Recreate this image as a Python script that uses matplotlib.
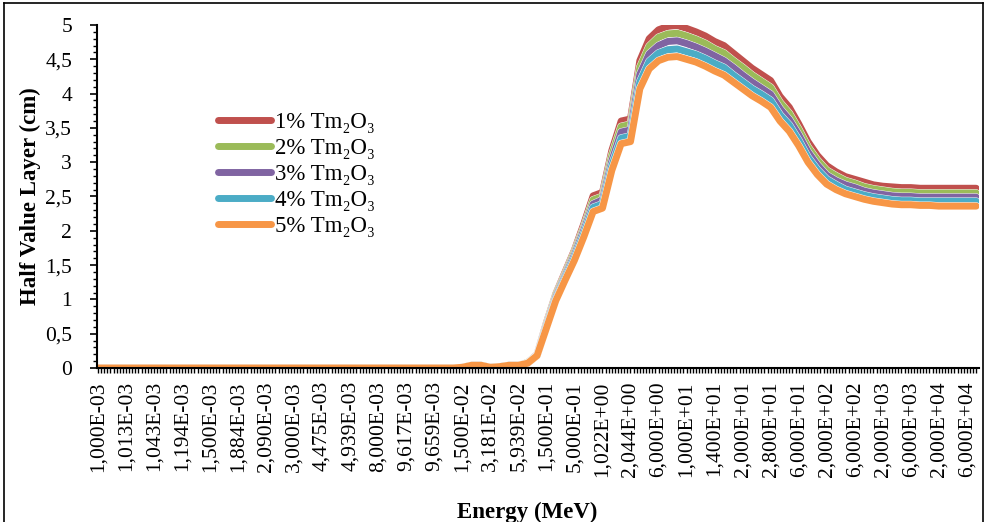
import matplotlib
matplotlib.use("Agg")
import matplotlib.pyplot as plt
import matplotlib.patheffects as pe
from matplotlib.ticker import MultipleLocator, FixedLocator, FixedFormatter
import numpy as np

plt.rcParams['font.family'] = ['Liberation Serif', 'DejaVu Serif']

energy_labels = [
    "1,000E-03", "1,005E-03", "1,009E-03",
    "1,013E-03", "1,020E-03", "1,030E-03",
    "1,043E-03", "1,100E-03", "1,150E-03",
    "1,194E-03", "1,300E-03", "1,400E-03",
    "1,500E-03", "1,600E-03", "1,800E-03",
    "1,884E-03", "2,000E-03", "2,050E-03",
    "2,090E-03", "2,307E-03", "2,500E-03",
    "3,000E-03", "3,500E-03", "4,000E-03",
    "4,475E-03", "4,600E-03", "4,800E-03",
    "4,939E-03", "5,000E-03", "6,000E-03",
    "8,000E-03", "8,648E-03", "9,000E-03",
    "9,617E-03", "9,630E-03", "9,645E-03",
    "9,659E-03", "1,000E-02", "1,012E-02",
    "1,500E-02", "2,000E-02", "3,000E-02",
    "3,181E-02", "4,000E-02", "5,000E-02",
    "5,939E-02", "6,000E-02", "8,000E-02",
    "1,500E-01", "2,000E-01", "3,000E-01",
    "5,000E-01", "8,000E-01", "1,000E+00",
    "1,022E+00", "1,250E+00", "2,000E+00",
    "2,044E+00", "3,000E+00", "4,000E+00",
    "6,000E+00", "7,000E+00", "8,000E+00",
    "1,000E+01", "1,100E+01", "1,200E+01",
    "1,400E+01", "1,500E+01", "1,600E+01",
    "2,000E+01", "2,200E+01", "2,400E+01",
    "2,800E+01", "3,000E+01", "4,000E+01",
    "6,000E+01", "8,000E+01", "1,000E+02",
    "2,000E+02", "3,000E+02", "4,000E+02",
    "6,000E+02", "8,000E+02", "1,000E+03",
    "2,000E+03", "3,000E+03", "4,000E+03",
    "6,000E+03", "8,000E+03", "1,000E+04",
    "2,000E+04", "3,000E+04", "4,000E+04",
    "6,000E+04", "8,000E+04",
]

zeros_low = [0.00, 0.00, 0.00, 0.00, 0.00, 0.00, 0.00, 0.00, 0.00, 0.00,
             0.00, 0.00, 0.00, 0.00, 0.00, 0.00, 0.00, 0.00, 0.00, 0.00,
             0.00, 0.00, 0.00, 0.00, 0.00, 0.00, 0.00, 0.00, 0.00, 0.00,
             0.00, 0.00, 0.00, 0.00, 0.00, 0.00, 0.00, 0.00, 0.00]

hvl_1 = zeros_low + [
    0.01, 0.04, 0.04, 0.01, 0.02, 0.04, 0.04, 0.08, 0.20, 0.66,
    1.08, 1.40, 1.72, 2.10, 2.51, 2.56, 3.17, 3.60, 3.63, 4.48,
    4.80, 4.93, 4.98, 4.99, 4.95, 4.90, 4.84, 4.76, 4.70, 4.59,
    4.48, 4.37, 4.28, 4.19, 3.96, 3.80, 3.56, 3.30, 3.10, 2.95,
    2.86, 2.79, 2.75, 2.71, 2.67, 2.65, 2.64, 2.63, 2.63, 2.62,
    2.62, 2.62, 2.62, 2.62, 2.62, 2.62]

hvl_2 = zeros_low + [
    0.01, 0.04, 0.04, 0.01, 0.02, 0.04, 0.04, 0.08, 0.19, 0.64,
    1.06, 1.37, 1.69, 2.05, 2.45, 2.50, 3.10, 3.52, 3.55, 4.38,
    4.69, 4.82, 4.87, 4.88, 4.84, 4.79, 4.73, 4.65, 4.59, 4.48,
    4.38, 4.27, 4.18, 4.09, 3.87, 3.71, 3.48, 3.22, 3.03, 2.88,
    2.80, 2.73, 2.69, 2.64, 2.61, 2.59, 2.57, 2.56, 2.56, 2.55,
    2.55, 2.55, 2.55, 2.55, 2.55, 2.55]

hvl_3 = zeros_low + [
    0.01, 0.04, 0.04, 0.01, 0.02, 0.04, 0.04, 0.07, 0.19, 0.62,
    1.03, 1.34, 1.65, 2.01, 2.39, 2.45, 3.02, 3.44, 3.47, 4.28,
    4.58, 4.70, 4.76, 4.77, 4.73, 4.68, 4.62, 4.55, 4.48, 4.38,
    4.27, 4.17, 4.08, 3.99, 3.78, 3.62, 3.40, 3.15, 2.96, 2.81,
    2.73, 2.67, 2.63, 2.58, 2.55, 2.53, 2.51, 2.50, 2.50, 2.49,
    2.49, 2.49, 2.49, 2.49, 2.49, 2.49]

hvl_4 = zeros_low + [
    0.01, 0.04, 0.04, 0.01, 0.02, 0.04, 0.04, 0.07, 0.18, 0.60,
    1.00, 1.31, 1.61, 1.96, 2.34, 2.39, 2.95, 3.35, 3.38, 4.17,
    4.47, 4.59, 4.64, 4.65, 4.61, 4.57, 4.51, 4.44, 4.38, 4.27,
    4.17, 4.07, 3.99, 3.90, 3.69, 3.54, 3.32, 3.07, 2.89, 2.75,
    2.67, 2.60, 2.56, 2.52, 2.49, 2.47, 2.45, 2.44, 2.44, 2.43,
    2.43, 2.43, 2.43, 2.43, 2.43, 2.43]

hvl_5 = zeros_low + [
    0.01, 0.04, 0.04, 0.01, 0.02, 0.04, 0.04, 0.07, 0.18, 0.58,
    0.98, 1.28, 1.57, 1.91, 2.28, 2.33, 2.88, 3.27, 3.30, 4.07,
    4.36, 4.48, 4.53, 4.54, 4.50, 4.46, 4.40, 4.33, 4.27, 4.17,
    4.07, 3.97, 3.89, 3.80, 3.60, 3.45, 3.24, 3.00, 2.82, 2.68,
    2.60, 2.54, 2.50, 2.46, 2.43, 2.41, 2.39, 2.38, 2.38, 2.37,
    2.37, 2.36, 2.36, 2.36, 2.36, 2.36]

series_names = ["1% Tm\u2082O\u2083", "2% Tm\u2082O\u2083", "3% Tm\u2082O\u2083",
                "4% Tm\u2082O\u2083", "5% Tm\u2082O\u2083"]
series_values = [hvl_1, hvl_2, hvl_3, hvl_4, hvl_5]
colors = ["#C0504D", "#9BBB59", "#8064A2", "#4BACC6", "#F79646"]

W, H = 985, 522
fig = plt.figure(figsize=(W / 100, H / 100), dpi=100)
ax = fig.add_axes([97 / W, 1 - 368 / H, (979 - 97) / W, (368 - 25) / H])

x = np.arange(len(energy_labels))
lw = 5.0
for vals, name, c in zip(series_values, series_names, colors):
    ax.plot(x, vals, color=c, lw=lw, label=name, solid_capstyle='round',
            solid_joinstyle='round',
            path_effects=[pe.Stroke(linewidth=lw + 0.6, foreground='white'), pe.Normal()])

ax.set_xlim(-0.1, len(energy_labels) - 1 + 0.3)
ax.set_ylim(0, 5)

for s in ['top', 'right']:
    ax.spines[s].set_visible(False)
for s in ['left', 'bottom']:
    ax.spines[s].set_linewidth(1.5)
    ax.spines[s].set_color('black')

label_idx = list(range(0, len(energy_labels), 3))
ax.xaxis.set_major_locator(FixedLocator(label_idx))
ax.xaxis.set_major_formatter(FixedFormatter([energy_labels[i] for i in label_idx]))
ax.xaxis.set_minor_locator(MultipleLocator(1 / 3))
ax.tick_params(axis='x', which='both', direction='out', length=3.5, width=1.0, pad=6)
ax.tick_params(axis='x', which='major', labelsize=15.5, labelrotation=90)

ax.yaxis.set_major_locator(MultipleLocator(0.5))
ax.yaxis.set_minor_locator(MultipleLocator(0.1))
ax.set_yticks([0, 0.5, 1, 1.5, 2, 2.5, 3, 3.5, 4, 4.5, 5])
ax.set_yticklabels(["0", "0,5", "1", "1,5", "2", "2,5", "3", "3,5", "4", "4,5", "5"])
ax.tick_params(axis='y', which='major', direction='out', length=5, width=1.2, pad=13, labelsize=15.5)
ax.tick_params(axis='y', which='minor', direction='out', length=3, width=1.0)

fig.text(30 / W, 1 - 196 / H, "Half Value Layer (cm)", rotation=90, ha='center', va='center',
         fontsize=16.5, fontweight='bold')
fig.text(527 / W, 1 - 512 / H, "Energy (MeV)", ha='center', va='center',
         fontsize=16.5, fontweight='bold')

leg = ax.legend(loc='upper left', bbox_to_anchor=(218 / W, 1 - 112 / H),
                bbox_transform=fig.transFigure, frameon=False, fontsize=16.5,
                handlelength=2.3, handletextpad=0.2, labelspacing=0.22,
                borderpad=0, borderaxespad=0)
for line in leg.get_lines():
    line.set_linewidth(lw)
    line.set_solid_capstyle('round')

# chart border
fig.add_artist(plt.Line2D([4 / W, 4 / W], [0, 1 - 3 / H], color='black', lw=1.2))
fig.add_artist(plt.Line2D([4 / W, 983 / W], [1 - 3 / H, 1 - 3 / H], color='black', lw=1.2))
fig.add_artist(plt.Line2D([983 / W, 983 / W], [0, 1 - 3 / H], color='black', lw=1.2))

fig.savefig("out.png", dpi=100)
